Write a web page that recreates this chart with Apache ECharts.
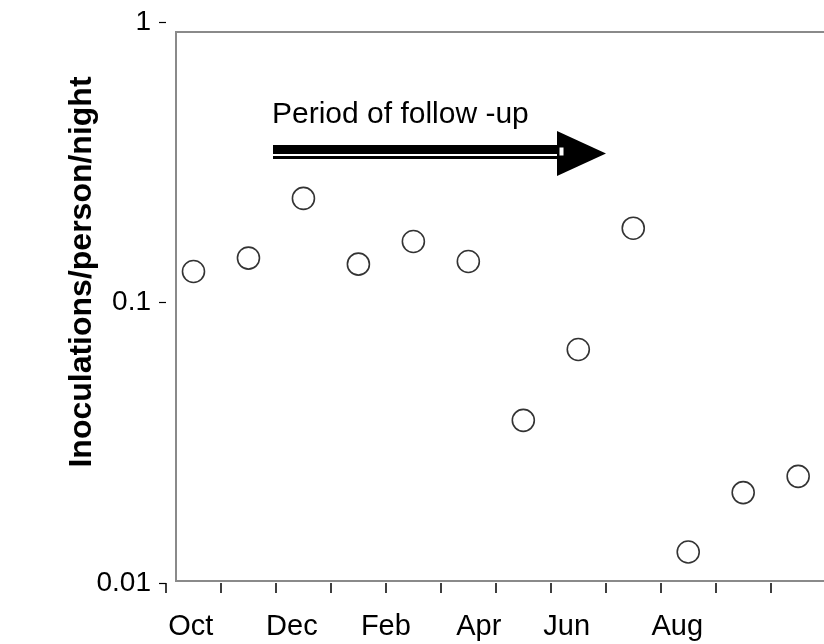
<!DOCTYPE html>
<html>
<head>
<meta charset="utf-8">
<script src="https://cdn.jsdelivr.net/npm/echarts@6/dist/echarts.min.js"></script>
<style>html,body{margin:0;padding:0;background:#fff}#c{width:824px;height:644px}</style>
</head>
<body>
<div id="c"></div>
<script>
// Months of observation (one point per month)
const months = ['Oct','Nov','Dec','Jan','Feb','Mar','Apr','May','Jun','Jul','Aug','Sep'];
// Inoculations per person per night (log scale)
const rates = [0.129, 0.144, 0.235, 0.137, 0.165, 0.140, 0.038, 0.068, 0.184, 0.0129, 0.021, 0.024];
// X tick labels and the month-index at which each is printed
const xTickLabels = ['Oct','Dec','Feb','Apr','Jun','Aug'];
const xLabelAt = [-0.05, 1.79, 3.5, 5.19, 6.79, 8.8];
// Month boundaries (tick marks)
const monthBounds = [-0.5, 0.5, 1.5, 2.5, 3.5, 4.5, 5.5, 6.5, 7.5, 8.5, 9.5, 10.5];
// Y ticks
const yTickValues = [0.01, 0.1, 1];
const yTickLabels = ['0.01', '0.1', '1'];
const yTitle = 'Inoculations/person/night';
const annotation = 'Period of follow -up';

const FONT = '"Liberation Sans", Arial, Helvetica, sans-serif';
const chart = echarts.init(document.getElementById('c'), null, {renderer: 'canvas'});

const option = {
  animation: false,
  backgroundColor: '#fff',
  grid: [
    {left: 166, top: 22, right: 0, bottom: 61, show: false}
  ],
  xAxis: [
    {
      type: 'value', gridIndex: 0, min: -0.5, max: 11.47,
      axisLine: {show: false, onZero: false},
      splitLine: {show: false},
      axisTick: {show: true, inside: false, length: 10, customValues: monthBounds, lineStyle: {color: '#000', width: 1.5}},
      axisLabel: {
        show: true, customValues: xLabelAt, margin: 29,
        fontFamily: FONT, fontSize: 29, color: '#000',
        formatter: function (v) { const k = xLabelAt.indexOf(v); return k >= 0 ? xTickLabels[k] : ''; }
      }
    }
  ],
  yAxis: [
    {
      type: 'log', gridIndex: 0, logBase: 10, min: 0.01, max: 1,
      axisLine: {show: false, onZero: false},
      splitLine: {show: false},
      axisTick: {show: true, inside: false, length: 7, customValues: yTickValues, lineStyle: {color: '#000', width: 1.2}},
      axisLabel: {
        show: true, customValues: yTickValues, margin: 15,
        fontFamily: FONT, fontSize: 28, color: '#000',
        formatter: function (v) {
          for (let i = 0; i < yTickValues.length; i++) {
            if (Math.abs(v - yTickValues[i]) < yTickValues[i] * 1e-6) return yTickLabels[i];
          }
          return '';
        }
      }
    }
  ],
  graphic: [
    {type: 'polyline', z: 0, shape: {points: [[830, 32], [176, 32], [176, 581], [830, 581]]},
     style: {stroke: '#8a8a8a', lineWidth: 2, fill: null}},
    {type: 'text', x: 82, y: 272, rotation: Math.PI / 2,
     style: {text: yTitle, fontFamily: FONT, fontSize: 32, fontWeight: 'bold', fill: '#000', align: 'center', verticalAlign: 'middle'}},
    {type: 'text', x: 272, y: 115,
     style: {text: annotation, fontFamily: FONT, fontSize: 30, fill: '#000', align: 'left', verticalAlign: 'middle'}},
    {type: 'rect', shape: {x: 273, y: 145, width: 286, height: 9}, style: {fill: '#000'}},
    {type: 'rect', shape: {x: 273, y: 156, width: 286, height: 3}, style: {fill: '#000'}},
    {type: 'polygon', shape: {points: [[557, 131], [557, 176], [606, 153.5]]}, style: {fill: '#000'}},
    {type: 'rect', shape: {x: 559, y: 147, width: 5, height: 9}, style: {fill: '#fff', stroke: '#000', lineWidth: 1}}
  ],
  series: [{
    type: 'scatter',
    xAxisIndex: 0, yAxisIndex: 0,
    symbol: 'circle', symbolSize: 22,
    itemStyle: {color: '#fff', borderColor: '#000', borderWidth: 1.6},
    data: months.map((m, i) => [i, rates[i]])
  }]
};
chart.setOption(option);
</script>
</body>
</html>
